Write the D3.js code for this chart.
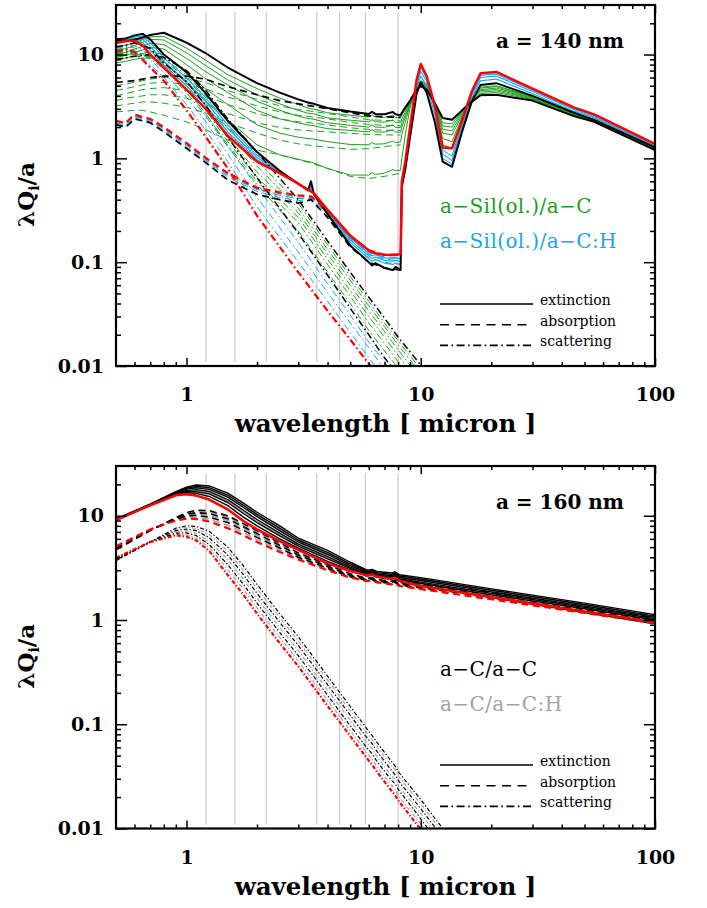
<!DOCTYPE html>
<html><head><meta charset="utf-8">
<script src="https://cdn.jsdelivr.net/npm/d3@7"></script>
<style>body{margin:0;background:#fff}</style>
</head><body>
<svg id="c" width="707" height="908"></svg>
<script>
// ---------------- DATA ----------------
const bandLam = [1.21, 1.61, 2.19, 3.6, 4.5, 5.8, 8.0];
const xMajor = [1, 10, 100];
const xMinor = [0.6,0.7,0.8,0.9,2,3,4,5,6,7,8,9,20,30,40,50,60,70,80,90];
const yMajor = [0.01, 0.1, 1, 10];
const yMinor = [0.02,0.03,0.04,0.05,0.06,0.07,0.08,0.09,0.2,0.3,0.4,0.5,0.6,0.7,0.8,0.9,2,3,4,5,6,7,8,9,20];

// top panel (a = 140 nm) wavelength grids
const topShortLam = [0.5,0.55,0.6,0.65,0.7,0.8,1.0,1.2,1.5,2.0,2.5,3.0,3.3,3.4,3.5,4.0,5.0,6.0,6.2,6.4,7.0,7.6,7.8,8.2];
const topLongLam  = [8.3,8.6,9.0,9.6,10.0,10.6,11.5,12.4,13.6,15.0,16.5,18.0,21.0,30,45,55,100];
const topAbsLam   = [0.5,0.55,0.6,0.65,0.7,0.8,1.0,1.2,1.5,2.0,2.5,3.0,3.4,4.0,5.0,6.0,7.0,8.2];
const topScaLam   = [0.5,0.55,0.6,0.7,0.8,1.0,1.2,1.5,2.0,3.0,4.0,5.0,6.0,7.0,8.0,10.0,12.0];

// extinction, short part
const extK1s = [13.5,13.4,13.9,14.6,15.4,16.2,13.0,10.4,7.5,5.3,4.3,3.7,3.45,3.4,3.35,3.05,2.82,2.68,2.8,2.68,2.66,2.8,2.66,2.6];
const extG1s = [12.0,12.3,13.0,13.9,14.8,15.0,11.5,8.9,6.4,4.7,3.8,3.3,3.05,3.0,2.98,2.75,2.6,2.5,2.62,2.5,2.48,2.6,2.48,2.45];
const extG2s = [11.0,11.4,12.2,13.1,14.0,13.8,10.4,7.9,5.7,4.1,3.35,2.9,2.72,2.7,2.68,2.45,2.33,2.25,2.36,2.25,2.23,2.34,2.23,2.22];
const extG3s = [10.0,10.5,11.3,12.0,12.8,12.5,9.2,6.9,5.1,3.55,2.9,2.55,2.42,2.4,2.38,2.2,2.08,2.0,2.1,2.0,1.99,2.09,1.99,1.98];
const extG4s = [9.3,9.8,10.5,11.1,11.7,11.3,8.0,5.9,4.3,2.9,2.4,2.2,2.1,2.08,2.06,1.93,1.86,1.8,1.89,1.8,1.79,1.88,1.79,1.78];
const extG5s = [8.8,9.2,9.8,10.2,10.6,10.0,6.6,4.7,3.3,2.1,1.75,1.6,1.55,1.54,1.53,1.45,1.36,1.35,1.42,1.37,1.38,1.47,1.42,1.44];
const extG6s = [8.3,8.6,9.0,9.2,9.3,8.5,5.3,3.6,2.35,1.35,1.08,0.98,0.93,0.92,0.9,0.8,0.69,0.69,0.73,0.7,0.72,0.78,0.76,0.77];
const extK2s = [14.0,14.3,15.3,15.8,14.0,10.0,6.8,4.3,2.3,1.15,0.76,0.57,0.49,0.6,0.45,0.29,0.145,0.1,0.093,0.098,0.088,0.084,0.09,0.084];
const extB1s = [13.6,14.0,14.8,14.9,13.0,9.3,6.0,3.9,2.1,1.07,0.75,0.57,0.5,0.54,0.46,0.3,0.155,0.108,0.102,0.106,0.098,0.095,0.098,0.095];
const extB2s = [13.3,13.8,14.4,14.0,12.0,8.6,5.5,3.6,1.95,1.02,0.74,0.57,0.5,0.52,0.46,0.31,0.163,0.115,0.109,0.112,0.104,0.102,0.104,0.102];
const extB3s = [13.1,13.6,14.0,13.0,11.0,8.0,5.0,3.3,1.8,0.97,0.73,0.57,0.5,0.5,0.46,0.315,0.171,0.122,0.116,0.118,0.11,0.109,0.11,0.109];
const extRs  = [12.9,13.5,13.6,12.2,10.0,7.5,4.6,3.05,1.65,0.93,0.72,0.57,0.5,0.48,0.46,0.32,0.18,0.13,0.125,0.122,0.118,0.117,0.117,0.12];
// extinction, long part
const extK1l = [2.75,3.1,3.6,4.6,4.95,4.6,3.4,2.45,2.35,2.9,3.5,4.05,4.1,3.6,2.55,2.25,1.2];
const extG1l = [2.6,2.95,3.5,4.65,5.05,4.7,3.4,2.2,2.15,2.85,3.55,4.2,4.3,3.7,2.6,2.28,1.21];
const extG2l = [2.4,2.8,3.45,4.7,5.15,4.8,3.4,2.05,2.0,2.8,3.6,4.35,4.45,3.75,2.63,2.3,1.22];
const extG3l = [2.2,2.65,3.4,4.75,5.25,4.9,3.35,1.9,1.85,2.7,3.65,4.5,4.6,3.8,2.66,2.32,1.23];
const extG4l = [2.0,2.5,3.35,4.8,5.35,5.0,3.3,1.75,1.68,2.6,3.7,4.6,4.75,3.85,2.68,2.34,1.24];
const extG5l = [1.7,2.25,3.3,4.9,5.5,5.1,3.25,1.55,1.45,2.5,3.75,4.75,4.9,3.9,2.7,2.36,1.25];
const extG6l = [1.0,1.7,3.1,5.0,5.6,5.2,3.2,1.35,1.25,2.4,3.8,4.85,5.0,3.95,2.72,2.38,1.26];
const extK2l = [0.53,0.8,1.6,4.2,5.4,4.3,2.2,0.93,0.83,1.8,3.5,5.1,5.3,4.0,2.75,2.35,1.28];
const extB1l = [0.55,0.82,1.7,4.7,6.2,5.0,2.6,1.0,0.88,1.95,3.8,5.6,5.8,4.2,2.85,2.45,1.31];
const extB2l = [0.56,0.85,1.8,5.0,6.9,5.5,2.85,1.1,0.95,2.05,4.0,6.0,6.2,4.4,2.95,2.52,1.33];
const extB3l = [0.58,0.9,1.9,5.3,7.5,5.9,3.05,1.2,1.05,2.15,4.2,6.3,6.5,4.55,3.02,2.58,1.36];
const extRl  = [0.6,0.95,2.0,5.7,8.1,6.2,3.2,1.27,1.25,2.3,4.4,6.6,6.8,4.7,3.1,2.65,1.38];
// absorption
const absK1 = [5.4,5.5,5.6,5.8,6.0,6.2,6.2,5.8,4.9,4.1,3.6,3.35,3.2,3.0,2.75,2.56,2.52,2.48];
const absG1 = [5.0,5.2,5.4,5.6,5.8,6.0,5.9,5.4,4.5,3.7,3.2,2.95,2.85,2.7,2.5,2.36,2.32,2.3];
const absG2 = [4.5,4.7,4.9,5.1,5.3,5.4,5.2,4.7,3.9,3.2,2.8,2.6,2.52,2.4,2.22,2.12,2.08,2.07];
const absG3 = [4.0,4.2,4.4,4.6,4.7,4.8,4.5,4.0,3.3,2.7,2.4,2.25,2.2,2.1,1.97,1.9,1.87,1.86];
const absG4 = [3.6,3.8,3.9,4.0,4.1,4.1,3.8,3.3,2.7,2.2,1.98,1.88,1.84,1.8,1.74,1.7,1.68,1.68];
const absG5 = [3.2,3.3,3.4,3.5,3.5,3.4,3.1,2.75,2.2,1.75,1.5,1.38,1.33,1.28,1.22,1.24,1.3,1.35];
const absG6 = [2.8,2.85,2.9,2.9,2.8,2.6,2.25,1.9,1.5,1.2,1.08,0.97,0.9,0.8,0.67,0.64,0.67,0.72];
const absK2 = [2.1,2.0,2.4,2.3,2.2,1.8,1.25,0.92,0.62,0.45,0.4,0.37,0.4,0.27,0.14,0.1,0.088,0.084];
const absB1 = [2.15,2.05,2.5,2.35,2.25,1.87,1.3,0.95,0.66,0.48,0.42,0.39,0.41,0.29,0.155,0.11,0.1,0.095];
const absB2 = [2.2,2.1,2.55,2.4,2.3,1.92,1.34,0.98,0.68,0.5,0.44,0.41,0.41,0.3,0.165,0.118,0.107,0.103];
const absB3 = [2.25,2.15,2.6,2.45,2.35,1.96,1.37,1.0,0.7,0.51,0.455,0.425,0.42,0.31,0.172,0.124,0.112,0.11];
const absR  = [2.3,2.2,2.65,2.5,2.4,2.0,1.4,1.02,0.72,0.52,0.47,0.44,0.43,0.32,0.18,0.13,0.118,0.118];
// scattering
const scaK1 = [9.0,9.3,9.6,10.0,9.4,7.0,4.6,2.4,1.15,0.4,0.16,0.08,0.046,0.029,0.019,0.0102,0.006];
const scaG1 = [9.5,9.8,10.0,10.0,9.1,6.4,4.1,2.05,0.95,0.37,0.147,0.073,0.042,0.026,0.0175,0.0093,null];
const scaG2 = [9.8,10.1,10.2,9.9,8.8,5.9,3.7,1.8,0.84,0.33,0.133,0.067,0.038,0.024,0.016,0.0085,null];
const scaG3 = [10.0,10.3,10.4,9.7,8.4,5.4,3.35,1.6,0.74,0.3,0.12,0.06,0.034,0.0215,0.0143,0.0075,null];
const scaG4 = [10.2,10.5,10.5,9.5,8.0,5.0,3.0,1.45,0.66,0.27,0.107,0.053,0.03,0.019,0.0127,0.0066,null];
const scaG5 = [10.4,10.7,10.6,9.3,7.6,4.6,2.75,1.35,0.6,0.24,0.095,0.047,0.026,0.0165,0.011,0.0058,null];
const scaG6 = [10.5,10.8,10.7,9.1,7.3,4.3,2.6,1.3,0.56,0.2,0.08,0.04,0.022,0.014,0.0095,0.005,null];
const scaK2 = [11.8,12.3,12.9,11.5,8.3,5.5,3.3,1.6,0.65,0.19,0.075,0.036,0.02,0.012,0.0082,null,null];
const scaB1 = [11.5,12.0,12.2,10.0,7.5,4.6,2.75,1.33,0.53,0.155,0.062,0.031,0.017,0.011,0.0072,null,null];
const scaB2 = [11.2,11.7,11.6,8.9,6.7,3.9,2.3,1.1,0.42,0.125,0.051,0.026,0.015,0.0093,0.0062,null,null];
const scaB3 = [10.9,11.4,11.0,8.0,6.0,3.3,1.9,0.93,0.34,0.1,0.042,0.021,0.012,0.0077,0.005,null,null];
const scaR  = [10.7,11.2,10.6,7.5,5.6,2.9,1.65,0.8,0.28,0.08,0.034,0.018,0.0105,0.0066,0.0044,null,null];

// bottom panel (a = 160 nm)
const botLam = [0.5,0.7,0.9,1.0,1.1,1.25,1.5,1.75,2.0,2.5,3.0,4.0,5.0,5.9,6.2,6.5,7.5,7.75,8.1,10,20,50,100];
const bExtK1 = [9.3,12.9,17.0,18.8,19.7,19.3,16.5,13.2,10.8,8.0,6.1,4.65,3.58,3.0,3.05,2.92,2.82,2.9,2.72,2.55,1.99,1.45,1.125];
const bExtG1 = [9.28,12.85,16.7,18.2,18.8,18.25,15.45,12.3,10.05,7.4,5.72,4.35,3.39,2.87,2.92,2.8,2.7,2.77,2.6,2.43,1.9,1.39,1.075];
const bExtK2 = [9.3,12.9,16.8,18.4,19.1,18.6,15.8,12.6,10.3,7.6,5.85,4.45,3.45,2.92,2.97,2.85,2.74,2.82,2.64,2.47,1.93,1.41,1.09];
const bExtK3 = [9.25,12.8,16.6,18.0,18.5,17.9,15.1,12.0,9.8,7.2,5.6,4.25,3.33,2.84,2.89,2.77,2.66,2.73,2.56,2.39,1.86,1.36,1.06];
const bExtK4 = [9.2,12.8,16.4,17.5,17.8,17.1,14.3,11.3,9.2,6.8,5.35,4.05,3.22,2.77,2.82,2.7,2.59,2.66,2.49,2.31,1.8,1.32,1.03];
const bExtG2 = [9.22,12.75,16.25,17.25,17.4,16.6,13.85,10.9,8.9,6.6,5.22,3.95,3.17,2.74,2.79,2.67,2.56,2.63,2.46,2.28,1.77,1.3,1.015];
const bExtK5 = [9.2,12.7,16.1,17.0,17.0,16.2,13.4,10.5,8.6,6.4,5.1,3.85,3.12,2.71,2.76,2.64,2.53,2.6,2.43,2.24,1.74,1.28,1.0];
const bExtK6 = [9.15,12.7,15.9,16.6,16.4,15.3,12.5,9.7,8.0,6.0,4.9,3.65,3.02,2.64,2.69,2.57,2.45,2.52,2.35,2.14,1.64,1.18,0.92];
const bExtR  = [9.1,12.6,15.7,16.1,15.6,14.3,11.5,8.9,7.4,5.7,4.7,3.5,2.95,2.68,2.73,2.61,2.48,2.55,2.38,2.12,1.66,1.21,0.95];
const bAbsK1 = [4.7,7.2,9.6,10.7,11.3,11.2,10.0,8.4,7.2,5.5,4.4,3.4,2.78,2.5,2.55,2.44,2.36,2.42,2.28,2.2,1.85,1.38,1.09];
const bAbsG1 = [4.75,7.25,9.5,10.5,11.0,10.9,9.7,8.15,7.0,5.35,4.3,3.33,2.73,2.46,2.51,2.4,2.32,2.38,2.24,2.16,1.8,1.34,1.065];
const bAbsK2 = [4.8,7.3,9.4,10.3,10.7,10.5,9.35,7.85,6.75,5.2,4.2,3.26,2.68,2.43,2.48,2.37,2.29,2.35,2.21,2.12,1.76,1.31,1.04];
const bAbsG2 = [4.85,7.3,9.3,10.1,10.4,10.1,9.0,7.55,6.5,5.05,4.1,3.2,2.64,2.41,2.46,2.35,2.26,2.32,2.18,2.08,1.71,1.27,1.01];
const bAbsK3 = [4.9,7.35,9.2,9.9,10.1,9.7,8.6,7.25,6.2,4.9,4.0,3.13,2.6,2.39,2.44,2.33,2.24,2.3,2.16,2.04,1.67,1.24,0.99];
const bAbsG3 = [5.0,7.4,9.1,9.65,9.7,9.25,8.1,6.9,5.9,4.7,3.9,3.06,2.57,2.38,2.42,2.31,2.22,2.28,2.13,2.0,1.62,1.2,0.96];
const bAbsR  = [5.1,7.4,9.0,9.4,9.3,8.8,7.6,6.5,5.6,4.5,3.8,3.0,2.55,2.36,2.4,2.29,2.2,2.26,2.12,1.98,1.58,1.17,0.93];
const bScaK1 = [3.7,5.6,7.6,8.0,7.9,7.1,5.0,3.3,2.2,1.15,0.69,0.29,0.148,0.09,0.078,0.067,0.044,0.04,0.034,0.019,0.0024,null,null];
const bScaG1 = [3.75,5.6,7.4,7.75,7.55,6.6,4.6,3.0,2.0,1.05,0.63,0.265,0.135,0.082,0.071,0.061,0.04,0.037,0.031,0.0172,0.0022,null,null];
const bScaK2 = [3.8,5.6,7.2,7.45,7.2,6.15,4.2,2.72,1.8,0.95,0.57,0.24,0.122,0.074,0.065,0.055,0.036,0.033,0.028,0.0155,0.002,null,null];
const bScaG2 = [3.85,5.6,7.0,7.15,6.8,5.7,3.8,2.45,1.62,0.85,0.51,0.213,0.109,0.066,0.058,0.049,0.032,0.03,0.025,0.0139,0.0017,null,null];
const bScaK3 = [3.9,5.6,6.8,6.85,6.45,5.3,3.4,2.2,1.45,0.76,0.455,0.19,0.097,0.059,0.052,0.044,0.029,0.027,0.023,0.0124,0.0015,null,null];
const bScaG3 = [3.93,5.6,6.65,6.55,6.1,4.95,3.05,1.97,1.3,0.68,0.405,0.17,0.087,0.053,0.046,0.039,0.026,0.024,0.02,0.011,0.0013,null,null];
const bScaR  = [3.96,5.6,6.5,6.3,5.8,4.6,2.7,1.75,1.15,0.6,0.36,0.15,0.077,0.047,0.041,0.035,0.023,0.021,0.018,0.0098,0.0012,null,null];

// ---------------- DRAWING ----------------
const GREEN = '#1c9f1c', BLUE = '#17a5f0', RED = '#ff0000', GRAY = '#a3a3a3', BLACK = '#000';
const DASH = '7,4.5', DDOT = '7,3,1.6,3', BDOT = '4,2,1.3,2';
const FONT = "'DejaVu Serif', serif";
const svg = d3.select('#c');
const X0 = 116, X1 = 655;
const x = d3.scaleLog().domain([0.5, 100]).range([X0, X1]);

const topLamFull = topShortLam.concat(topLongLam);
function mk(lam, vals, color, width, dash) {
  return {pts: lam.map((l, i) => [l, vals[i]]), color, width, dash};
}
const topSeries = [
  mk(topScaLam, scaG1, GREEN, 1, DDOT), mk(topScaLam, scaG2, GREEN, 1, DDOT), mk(topScaLam, scaG3, GREEN, 1, DDOT),
  mk(topScaLam, scaG4, GREEN, 1, DDOT), mk(topScaLam, scaG5, GREEN, 1, DDOT), mk(topScaLam, scaG6, GREEN, 1, DDOT),
  mk(topScaLam, scaB1, BLUE, 1, DDOT), mk(topScaLam, scaB2, BLUE, 1, DDOT), mk(topScaLam, scaB3, BLUE, 1, DDOT),
  mk(topAbsLam, absG1, GREEN, 1, DASH), mk(topAbsLam, absG2, GREEN, 1, DASH), mk(topAbsLam, absG3, GREEN, 1, DASH),
  mk(topAbsLam, absG4, GREEN, 1, DASH), mk(topAbsLam, absG5, GREEN, 1, DASH), mk(topAbsLam, absG6, GREEN, 1, DASH),
  mk(topAbsLam, absB1, BLUE, 1, DASH), mk(topAbsLam, absB2, BLUE, 1, DASH), mk(topAbsLam, absB3, BLUE, 1, DASH),
  mk(topLamFull, extG1s.concat(extG1l), GREEN, 1, null), mk(topLamFull, extG2s.concat(extG2l), GREEN, 1, null),
  mk(topLamFull, extG3s.concat(extG3l), GREEN, 1, null), mk(topLamFull, extG4s.concat(extG4l), GREEN, 1, null),
  mk(topLamFull, extG5s.concat(extG5l), GREEN, 1, null), mk(topLamFull, extG6s.concat(extG6l), GREEN, 1, null),
  mk(topLamFull, extB1s.concat(extB1l), BLUE, 1.1, null), mk(topLamFull, extB2s.concat(extB2l), BLUE, 1.1, null),
  mk(topLamFull, extB3s.concat(extB3l), BLUE, 1.1, null),
  mk(topScaLam, scaK1, BLACK, 1.5, DDOT), mk(topScaLam, scaK2, BLACK, 1.5, DDOT),
  mk(topAbsLam, absK1, BLACK, 1.7, DASH), mk(topAbsLam, absK2, BLACK, 1.7, DASH),
  mk(topLamFull, extK1s.concat(extK1l), BLACK, 2, null), mk(topLamFull, extK2s.concat(extK2l), BLACK, 2, null),
  mk(topScaLam, scaR, RED, 2.2, DDOT), mk(topAbsLam, absR, RED, 2.2, DASH),
  mk(topLamFull, extRs.concat(extRl), RED, 2.5, null)
];
const botSeries = [
  mk(botLam, bScaG1, GRAY, 1.2, BDOT), mk(botLam, bScaG2, GRAY, 1.2, BDOT), mk(botLam, bScaG3, GRAY, 1.2, BDOT),
  mk(botLam, bScaK1, BLACK, 1.2, BDOT), mk(botLam, bScaK2, BLACK, 1.2, BDOT), mk(botLam, bScaK3, BLACK, 1.2, BDOT),
  mk(botLam, bAbsG1, GRAY, 1.6, DASH), mk(botLam, bAbsG2, GRAY, 1.6, DASH), mk(botLam, bAbsG3, GRAY, 1.6, DASH),
  mk(botLam, bAbsK1, BLACK, 1.6, DASH), mk(botLam, bAbsK2, BLACK, 1.6, DASH), mk(botLam, bAbsK3, BLACK, 1.6, DASH),
  mk(botLam, bExtG1, GRAY, 1.3, null), mk(botLam, bExtG2, GRAY, 1.3, null),
  mk(botLam, bExtK1, BLACK, 1.4, null), mk(botLam, bExtK2, BLACK, 1.4, null), mk(botLam, bExtK3, BLACK, 1.4, null),
  mk(botLam, bExtK4, BLACK, 1.4, null), mk(botLam, bExtK5, BLACK, 1.4, null), mk(botLam, bExtK6, BLACK, 1.4, null),
  mk(botLam, bScaR, RED, 2.2, BDOT), mk(botLam, bAbsR, RED, 2.2, DASH), mk(botLam, bExtR, RED, 2.5, null)
];

function panel(id, top, bottom, series, title, leg1, leg1c, leg2, leg2c, legOff) {
  const y = d3.scaleLog().domain([0.01, 30]).range([bottom, top]);
  const g = svg.append('g');
  // grey reference wavelengths
  g.selectAll('line.band').data(bandLam).join('line')
    .attr('x1', d => x(d)).attr('x2', d => x(d))
    .attr('y1', top + 7).attr('y2', bottom - 4)
    .attr('stroke', '#cdcdcd').attr('stroke-width', 1.3);
  // clip
  svg.append('clipPath').attr('id', 'clip' + id).append('rect')
    .attr('x', X0).attr('y', top).attr('width', X1 - X0).attr('height', bottom - top);
  const line = d3.line().defined(d => d[1] != null && d[1] > 0)
    .x(d => x(d[0])).y(d => y(d[1]));
  g.append('g').attr('clip-path', `url(#clip${id})`)
    .selectAll('path').data(series).join('path')
    .attr('d', d => line(d.pts)).attr('fill', 'none')
    .attr('stroke', d => d.color).attr('stroke-width', d => d.width)
    .attr('stroke-dasharray', d => d.dash).attr('stroke-linejoin', 'round');

  // axes
  const tf = s => s.selectAll('text').attr('font-family', FONT).attr('font-size', 19).attr('font-weight', 'bold').attr('fill', '#000');
  const clean = s => { s.select('.domain').remove(); s.selectAll('line').attr('stroke', '#000').attr('stroke-width', 1.5); };
  const ax1 = g.append('g').attr('transform', `translate(0,${bottom})`)
    .call(d3.axisBottom(x).tickValues(xMajor).tickSize(-8).tickPadding(22).tickFormat(d3.format('d')));
  clean(ax1); tf(ax1);
  const ax2 = g.append('g').attr('transform', `translate(0,${bottom})`)
    .call(d3.axisBottom(x).tickValues(xMinor).tickSize(-4).tickFormat(''));
  clean(ax2);
  const ax3 = g.append('g').attr('transform', `translate(0,${top})`)
    .call(d3.axisTop(x).tickValues(xMajor).tickSize(-8).tickFormat(''));
  clean(ax3);
  const ax4 = g.append('g').attr('transform', `translate(0,${top})`)
    .call(d3.axisTop(x).tickValues(xMinor).tickSize(-4).tickFormat(''));
  clean(ax4);
  const ay1 = g.append('g').attr('transform', `translate(${X0},0)`)
    .call(d3.axisLeft(y).tickValues(yMajor).tickSize(-11).tickPadding(12).tickFormat(d => d >= 1 ? d3.format('d')(d) : String(d)));
  clean(ay1); tf(ay1);
  ay1.selectAll('text').attr('dy', '0.32em');
  const ay2 = g.append('g').attr('transform', `translate(${X0},0)`)
    .call(d3.axisLeft(y).tickValues(yMinor).tickSize(-5).tickFormat(''));
  clean(ay2);
  const ay3 = g.append('g').attr('transform', `translate(${X1},0)`)
    .call(d3.axisRight(y).tickValues(yMajor).tickSize(-11).tickFormat(''));
  clean(ay3);
  const ay4 = g.append('g').attr('transform', `translate(${X1},0)`)
    .call(d3.axisRight(y).tickValues(yMinor).tickSize(-5).tickFormat(''));
  clean(ay4);
  // frame
  g.append('rect').attr('x', X0).attr('y', top).attr('width', X1 - X0).attr('height', bottom - top)
    .attr('fill', 'none').attr('stroke', '#000').attr('stroke-width', 2.2);

  // axis titles
  g.append('text').attr('x', (X0 + X1) / 2).attr('y', bottom + 66).attr('text-anchor', 'middle')
    .attr('font-family', FONT).attr('font-size', 24.5).attr('font-weight', 'bold')
    .text('wavelength [ micron ]');
  const yl = g.append('text').attr('transform', `translate(34,${(top + bottom) / 2 + 9}) rotate(-90)`)
    .attr('text-anchor', 'middle').attr('font-family', FONT).attr('font-size', 23).attr('font-weight', 'bold');
  yl.append('tspan').text('λQ');
  yl.append('tspan').attr('font-size', 14).attr('dy', 5).text('i');
  yl.append('tspan').attr('dy', -5).text('/a');

  // size label
  g.append('text').attr('x', 624).attr('y', top + 43).attr('text-anchor', 'end')
    .attr('font-family', FONT).attr('font-size', 20).attr('font-weight', 'bold').text(title);
  // family labels
  g.append('text').attr('x', 440).attr('y', top + legOff).attr('font-family', FONT).attr('font-size', 20)
    .attr('letter-spacing', 0.4).attr('fill', leg1c).text(leg1);
  g.append('text').attr('x', 440).attr('y', top + legOff + 35).attr('font-family', FONT).attr('font-size', 20)
    .attr('letter-spacing', 0.4).attr('fill', leg2c).text(leg2);
  // style legend
  const legItems = [{t: 'extinction', d: null}, {t: 'absorption', d: '9,6.5'}, {t: 'scattering', d: '8,3.5,1.6,3.5'}];
  legItems.forEach((it, i) => {
    const yy = top + 299 + i * 20.7;
    g.append('line').attr('x1', 440).attr('x2', 533).attr('y1', yy).attr('y2', yy)
      .attr('stroke', '#000').attr('stroke-width', 1.6).attr('stroke-dasharray', it.d);
    g.append('text').attr('x', 540).attr('y', yy + 1).attr('font-family', FONT).attr('font-size', 14)
      .text(it.t);
  });
}

panel('t', 5, 366, topSeries, 'a = 140 nm', 'a−Sil(ol.)/a−C', GREEN, 'a−Sil(ol.)/a−C:H', BLUE, 208);
panel('b', 466, 828.5, botSeries, 'a = 160 nm', 'a−C/a−C', '#000', 'a−C/a−C:H', GRAY, 210);
</script>
</body></html>
